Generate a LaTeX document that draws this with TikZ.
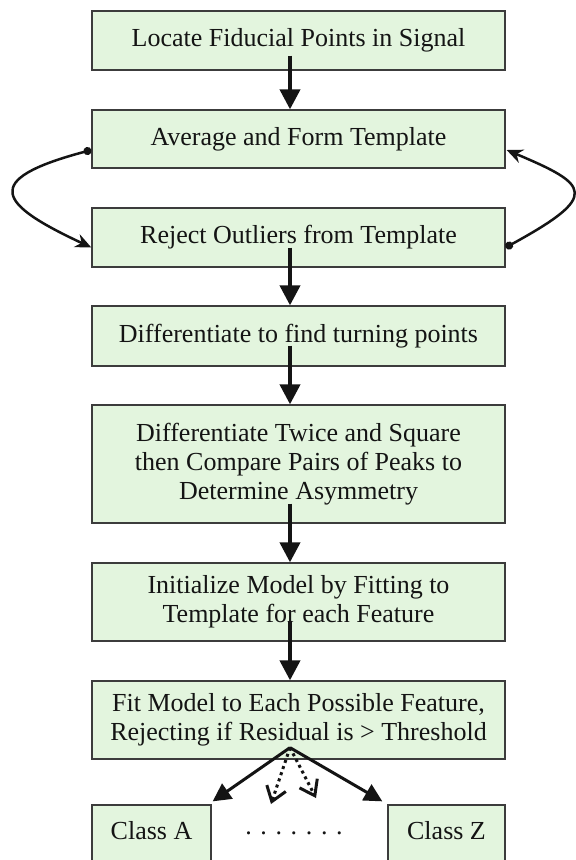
\documentclass[tikz,border=0pt]{standalone}
\usepackage{fontspec}
\setmainfont{Liberation Serif}
\usetikzlibrary{arrows.meta,calc}
\definecolor{boxfill}{RGB}{227,245,222}
\definecolor{boxline}{RGB}{60,60,60}
\definecolor{ink}{RGB}{20,20,20}
\begin{document}
\begin{tikzpicture}[x=1pt,y=-1pt,
  stepbox/.style={draw=boxline, line width=1.3pt, fill=boxfill, minimum width=413pt,
    inner sep=0pt, align=center, font=\fontsize{26}{29}\selectfont, text=ink},
  classbox/.style={draw=boxline, line width=1.3pt, fill=boxfill, minimum height=65pt,
    inner sep=0pt, text height=18pt, text depth=15pt, font=\fontsize{26}{29}\selectfont, text=ink},
  flow/.style={line width=4pt, draw=ink, -{Triangle[width=20pt,length=20pt]}},
  loop/.style={line width=2.5pt, draw=ink, {Circle[length=8pt]}-{Stealth[length=16pt,width=14pt]}},
  fanarrow/.style={line width=3pt, draw=ink, -{Triangle[width=18pt,length=18pt]}},
  dotarrow/.style={line width=3pt, draw=ink, dash pattern=on 3pt off 3.5pt,
    -{Straight Barb[length=14pt,width=20pt,line width=3pt]}}]
\clip (0,0) rectangle (576,860);
\fill[white] (0,0) rectangle (576,860);

\node[stepbox, minimum height=59pt] (b1) at (298.5,40.5) {Locate Fiducial Points in Signal};
\node[stepbox, minimum height=58pt] (b2) at (298.5,139) {Average and Form Template};
\node[stepbox, minimum height=59pt] (b3) at (298.5,237.5) {Reject Outliers from Template};
\node[stepbox, minimum height=60pt] (b4) at (298.5,336) {Differentiate to find turning points};
\node[stepbox, minimum height=118pt] (b5) at (298.5,464) {Differentiate Twice and Square\\then Compare Pairs of Peaks to\\Determine Asymmetry};
\node[stepbox, minimum height=78pt] (b6) at (298.5,602) {Initialize Model by Fitting to\\Template for each Feature};
\node[stepbox, minimum height=78pt] (b7) at (298.5,720) {Fit Model to Each Possible Feature,\\Rejecting if Residual is > Threshold};
\node[classbox, minimum width=119pt] (ca) at (151.5,837.5) {Class A};
\node[classbox, minimum width=117pt] (cz) at (446.5,837.5) {Class Z};
\node[anchor=base, font=\fontsize{26}{29}\selectfont, text=ink] (dots) at (294,834) {. . . . . . .};

\draw[flow] ($(b1.south)+(-8.5,-15)$) -- ($(b2.north)+(-8.5,0)$);
\draw[flow] ($(b3.south)+(-8.5,-20)$) -- ($(b4.north)+(-8.5,0)$);
\draw[flow] ($(b4.south)+(-8.5,-21)$) -- ($(b5.north)+(-8.5,0)$);
\draw[flow] ($(b5.south)+(-8.5,-20)$) -- ($(b6.north)+(-8.5,0)$);
\draw[flow] ($(b6.south)+(-8.5,-21)$) -- ($(b7.north)+(-8.5,0)$);

\draw[loop] ($(b2.west)+(0,11)$) .. controls +(-113,30) and +(-92,-43) .. ($(b3.west)+(0,10)$);
\draw[loop] ($(b3.east)+(0,10)$) .. controls +(95,-52) and +(83,35) .. ($(b2.east)+(1,11)$);

\coordinate (fan) at ($(b7.south)+(-8.5,-12)$);
\coordinate (dl) at (271,804);
\coordinate (dr) at (316,798);
\draw[fanarrow] (fan) -- ($(ca.north east)+(1,-3)$);
\draw[fanarrow] (fan) -- ($(cz.north west)+(-5,-3)$);
\draw[dotarrow] (fan) -- (dl);
\draw[dotarrow] (fan) -- (dr);
\end{tikzpicture}
\end{document}
